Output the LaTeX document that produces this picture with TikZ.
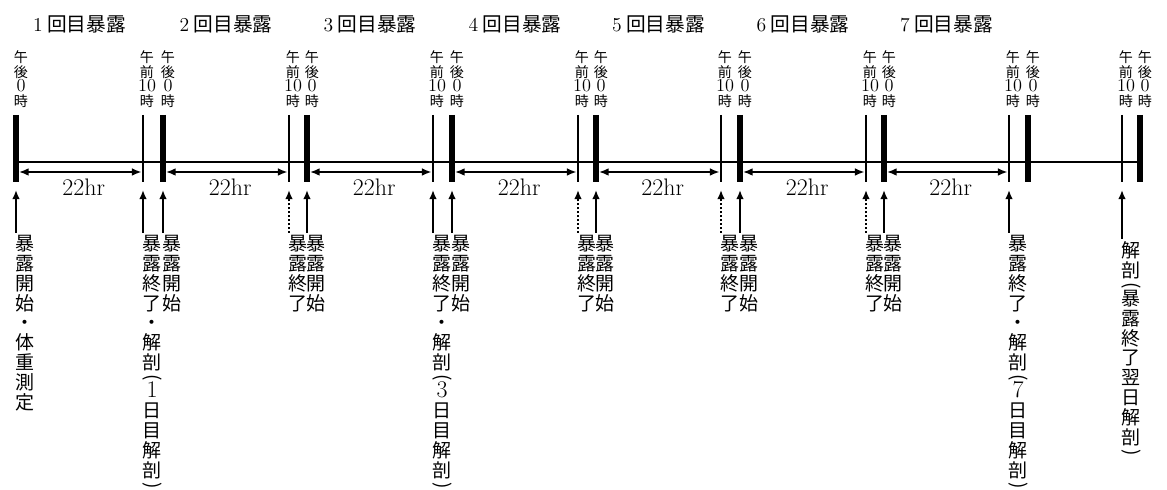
\documentclass[tikz,border=0pt]{standalone}
\usepackage{fontspec}
\usepackage{graphicx}
\usepackage{tikz}
\usetikzlibrary{arrows.meta}
\newfontfamily\jpfont{Noto Sans CJK JP}
\newcommand{\vlparen}{\rotatebox[origin=c]{-90}{(}}
\newcommand{\vrparen}{\rotatebox[origin=c]{-90}{)}}
\newcommand{\topnum}[1]{{\rmfamily\fontsize{13}{10.6}\selectfont #1}}
\newcommand{\botnum}[1]{{\rmfamily\fontsize{17}{14.1}\selectfont #1}}

\tikzset{
  pmbar/.style={line width=4pt},
  ambar/.style={line width=1.8pt},
  timeline/.style={line width=2pt},
  hrspan/.style={{Latex[length=7pt,width=5.5pt]}-{Latex[length=7pt,width=5.5pt]},line width=1.5pt,
    shorten <=2pt,shorten >=0.9pt},
  hrlab/.style={below=4pt,xshift=3pt,inner sep=0pt,font=\fontsize{17}{18}\selectfont},
  evarrow/.style={-{Latex[length=6.5pt,width=5.5pt]},line width=2.1pt},
  dottedline/.style={dash pattern=on 1.6pt off 1.2pt},
  ttl/.style={inner sep=0pt,font=\jpfont\fontsize{14}{15}\selectfont},
  toplab/.style={anchor=north,align=center,inner sep=0pt,font=\jpfont\fontsize{10}{10.6}\selectfont},
  botlab/.style={anchor=north,align=center,inner sep=0pt,font=\jpfont\fontsize{13.5}{14.1}\selectfont}
}

\begin{document}
\begin{tikzpicture}[x=0.025cm,y=-0.025cm]
\useasboundingbox (0,0) rectangle (1167,490);

% time line
\coordinate (lineL) at (16,162);
\coordinate (lineR) at (1142,162);
\draw[timeline] (lineL) -- (lineR);

% 午後0時
\foreach \xa [count=\i] in {16,163,307,452,596,740,884,1028,1140}{
  \coordinate (pmhead\i) at (\xa,24);
  \coordinate (pmtop\i) at (\xa,115);
  \coordinate (pmbot\i) at (\xa,182);
  \coordinate (pmdim\i) at (\xa,172);
  \coordinate (pmtip\i) at (\xa,190);
  \coordinate (pmfoot\i) at (\xa,233);
  \coordinate (pmtext\i) at (\xa+9,235);
  \draw[pmbar] (pmtop\i) -- (pmbot\i);
  \node[toplab] (pmlab\i) at (\xa+5,50) {午\\後\\\topnum{0}\\時};
}

% 午前10時
\foreach \xa [count=\i] in {143,289,433,578,721,866,1009,1122}{
  \coordinate (amhead\i) at (\xa,24);
  \coordinate (amtop\i) at (\xa,115);
  \coordinate (ambot\i) at (\xa,182);
  \coordinate (amdim\i) at (\xa,172);
  \coordinate (amtip\i) at (\xa,190);
  \coordinate (amfoot\i) at (\xa,233);
  \coordinate (amtext\i) at (\xa+9,235);
  \draw[ambar] (amtop\i) -- (ambot\i);
  \node[toplab] (amlab\i) at (\xa+4,50) {午\\前\\\topnum{10}\\時};
}
\coordinate (amfoot8) at (1122,239);
\coordinate (amtext8) at (1131,241);

% exposure periods
\foreach \i in {1,...,7}{
  \path (pmhead\i) -- (amhead\i) node[midway,ttl] (ttl\i) {{\rmfamily\i}\ 回目暴露};
  \draw[hrspan] (pmdim\i) -- (amdim\i) node[midway,hrlab] (hr\i) {22hr};
}

% events
\foreach \i in {1,...,7} \draw[evarrow] (pmfoot\i) -- (pmtip\i);
\foreach \i in {1,3,7,8} \draw[evarrow] (amfoot\i) -- (amtip\i);
\foreach \i in {2,4,5,6} \draw[evarrow,dottedline] (amfoot\i) -- (amtip\i);

\node[botlab] (startlab1) at (pmtext1) {暴\\露\\開\\始\\・\\体\\重\\測\\定};
\foreach \i in {2,...,7} \node[botlab] (startlab\i) at (pmtext\i) {暴\\露\\開\\始};
\foreach \i in {2,4,5,6} \node[botlab] (endlab\i) at (amtext\i) {暴\\露\\終\\了};
\node[botlab] (endlab1) at (amtext1)
  {暴\\露\\終\\了\\・\\解\\剖\\[-4pt]\vlparen\\[-4pt]\botnum{1}\\日\\目\\解\\剖\\[-4pt]\vrparen};
\node[botlab] (endlab3) at (amtext3)
  {暴\\露\\終\\了\\・\\解\\剖\\[-4pt]\vlparen\\[-4pt]\botnum{3}\\日\\目\\解\\剖\\[-4pt]\vrparen};
\node[botlab] (endlab7) at (amtext7)
  {暴\\露\\終\\了\\・\\解\\剖\\[-4pt]\vlparen\\[-4pt]\botnum{7}\\日\\目\\解\\剖\\[-4pt]\vrparen};
\node[botlab] (endlab8) at (amtext8)
  {解\\剖\\[-4pt]\vlparen\\[-4pt]暴\\露\\終\\了\\翌\\日\\解\\剖\\[-4pt]\vrparen};
\end{tikzpicture}
\end{document}
